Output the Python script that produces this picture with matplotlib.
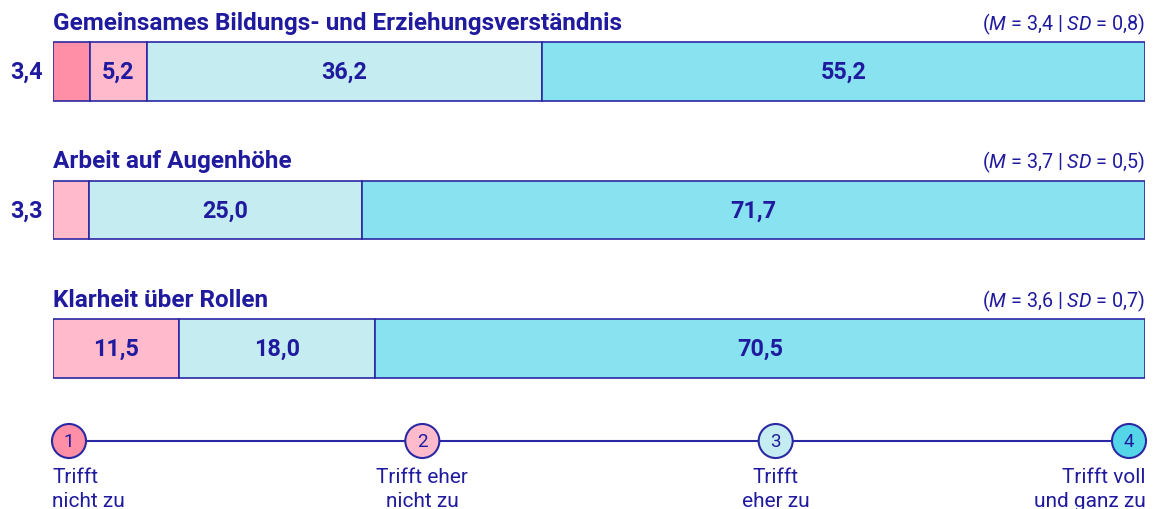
import matplotlib
matplotlib.use("Agg")
import matplotlib.pyplot as plt

# data
items = ["Gemeinsames Bildungs- und Erziehungsverständnis",
         "Arbeit auf Augenhöhe",
         "Klarheit über Rollen"]
p_nicht = [3.4, 0.0, 0.0]
p_eher_nicht = [5.2, 3.3, 11.5]
p_eher = [36.2, 25.0, 18.0]
p_voll = [55.2, 71.7, 70.5]
means = [3.4, 3.7, 3.6]
sds = [0.8, 0.5, 0.7]
scale_labels = ["Trifft\nnicht zu", "Trifft eher\nnicht zu",
                "Trifft\neher zu", "Trifft voll\nund ganz zu"]

INK = "#1f1a9e"
EDGE = "#2b28a3"
bar_colors = ["#ff8fa6", "#ffbacb", "#c5edf1", "#88e2f0"]
dot_colors = ["#ff8fa6", "#ffbacb", "#c5edf1", "#55d6e8"]

plt.rcParams["font.family"] = ["Roboto", "DejaVu Sans"]
plt.rcParams["mathtext.fontset"] = "custom"
plt.rcParams["mathtext.rm"] = "Roboto"
plt.rcParams["mathtext.it"] = "Roboto:italic"


def fmt(v):
    return f"{v:.1f}".replace(".", ",")


W, H = 1160, 510
fig = plt.figure(figsize=(W / 100, H / 100), dpi=100)

# main bar axes: x 0..100 spans px 53..1145, full height
ax = fig.add_axes([53 / W, 0, 1092 / W, 1])
unit = 138.5
top = -72.5 / unit
ax.set_xlim(0, 100)
ax.set_ylim(top + H / unit, top)
ax.axis("off")

series = [p_nicht, p_eher_nicht, p_eher, p_voll]
bar_h = 59 / unit
for i in range(len(items)):
    left = 0.0
    for k, s in enumerate(series):
        v = s[i]
        if v <= 0:
            continue
        ax.barh(i, v, left=left, height=bar_h, color=bar_colors[k],
                edgecolor=EDGE, linewidth=1.2)
        if v >= 4:
            ax.text(left + v / 2, i, fmt(v), ha="center", va="center",
                    color=INK, fontsize=16.8, fontweight="bold")
        else:
            ax.annotate(fmt(v), (0, i), xytext=(-19, 0),
                        textcoords="offset points", ha="center",
                        va="center", color=INK, fontsize=16.8,
                        fontweight="bold")
        left += v
    ax.text(0, i - 0.31, items[i], ha="left", va="baseline", color=INK,
            fontsize=17.5, fontweight="bold")
    ax.text(100, i - 0.305,
            "(" + r"$\mathit{M}$" + f" = {fmt(means[i])} | "
            + r"$\mathit{SD}$" + f" = {fmt(sds[i])})",
            ha="right", va="baseline", color=INK, fontsize=14.2)

# scale legend: points 1..4 span px 69..1129, centred at px 442
lax = fig.add_axes([69 / W, (H - 452) / H, 1060 / W, 20 / H])
lax.set_xlim(1, 4)
lax.set_ylim(-1, 1)
lax.axis("off")
pts = [1, 2, 3, 4]
lax.plot(pts, [0] * 4, color=EDGE, linewidth=1.5, clip_on=False, zorder=1)
lax.scatter(pts, [0] * 4, s=600, c=dot_colors, edgecolors=EDGE,
            linewidths=1.5, clip_on=False, zorder=2)
aligns = ["left", "center", "center", "right"]
shifts = [-12, 0, 0, 12]
for p, lab, ha, dx in zip(pts, scale_labels, aligns, shifts):
    lax.text(p, 0, str(p), ha="center", va="center", color=INK,
             fontsize=13.5)
    lax.annotate(lab, (p, 0), xytext=(dx, -19), textcoords="offset points",
                 ha=ha, va="top", multialignment=ha, color=INK,
                 fontsize=15, linespacing=1.28)

fig.savefig("out.png", dpi=100)
